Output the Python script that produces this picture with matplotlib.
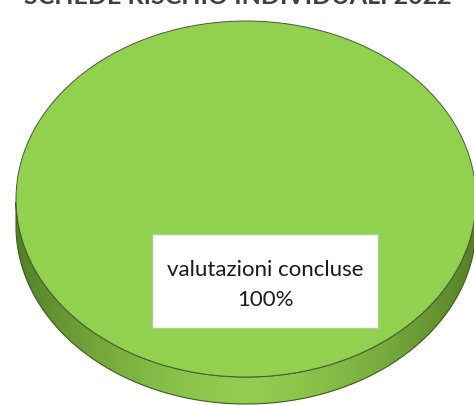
import numpy as np
import matplotlib
matplotlib.use("Agg")
from matplotlib import pyplot as plt
from matplotlib.path import Path
from matplotlib.patches import PathPatch, Rectangle

title = "SCHEDE RISCHIO INDIVIDUALI 2022"
labels = ["valutazioni concluse"]
values = [100]
colors = ["#92D050"]

fig = plt.figure(figsize=(4.74, 4.06), dpi=100)
ax = fig.add_axes([0, 0, 1, 1])
ax.set_aspect("auto")
ax.axis("off")

# pixel mapping: centre (246, 200), radii 230 x 178 px, depth 27 px
ax.set_xlim(-246 / 230, 228 / 230)
ax.set_ylim(-206 / 178, 200 / 178)
depth = 27 / 178

# side of the 3d disc, gradient clipped to the visible band
t = np.linspace(np.pi, 2 * np.pi, 200)
xs = np.cos(t)
ys = np.sin(t)
verts = np.concatenate([
    np.column_stack([xs, ys - depth]),
    np.column_stack([xs[::-1], ys[::-1]]),
])
side = PathPatch(Path(verts, closed=True), facecolor="none",
                 edgecolor="#3f5a1e", lw=0.8, zorder=2)
ax.add_patch(side)
g = np.linspace(-1, 1, 256)
shade = 1 - np.abs(g) ** 1.6
c_dark = np.array([0x55, 0x80, 0x26]) / 255
c_light = np.array([0x92, 0xCC, 0x50]) / 255
grad = c_dark[None, :] + (c_light - c_dark)[None, :] * shade[:, None]
img = ax.imshow(grad[None, :, :], extent=[-1, 1, -1 - depth, 0],
                aspect="auto", zorder=1, interpolation="bilinear")
img.set_clip_path(side)

wedges, _ = ax.pie(values, colors=colors, startangle=90, radius=1,
                   wedgeprops=dict(edgecolor="#4a5a3a", linewidth=0.7))
for w in wedges:
    w.set_zorder(3)
ax.set_xlim(-246 / 230, 228 / 230)
ax.set_ylim(-206 / 178, 200 / 178)
ax.set_aspect("auto")

# label box
pct = values[0] / sum(values) * 100
ax.add_patch(Rectangle((152 / 474, 1 - 329 / 406), 226 / 474, 94 / 406,
                       transform=ax.transAxes, facecolor="white",
                       edgecolor="#a9d18e", lw=1.0, zorder=4))
ax.text(265 / 474, 1 - 270 / 406, labels[0], transform=ax.transAxes,
        ha="center", va="center", fontsize=16, family="Lato",
        color="#1a1a1a", zorder=5)
ax.text(265 / 474, 1 - 300 / 406, f"{pct:.0f}%", transform=ax.transAxes,
        ha="center", va="center", fontsize=16, family="Lato",
        color="#1a1a1a", zorder=5)

# title is cut off by the top edge of the picture, as in the original
fig.text(238 / 474, 1 - 4 / 406, title, ha="center", va="baseline",
         fontsize=18, fontweight="bold", color="#404040", family="Lato")

fig.savefig("out.png", dpi=100)
